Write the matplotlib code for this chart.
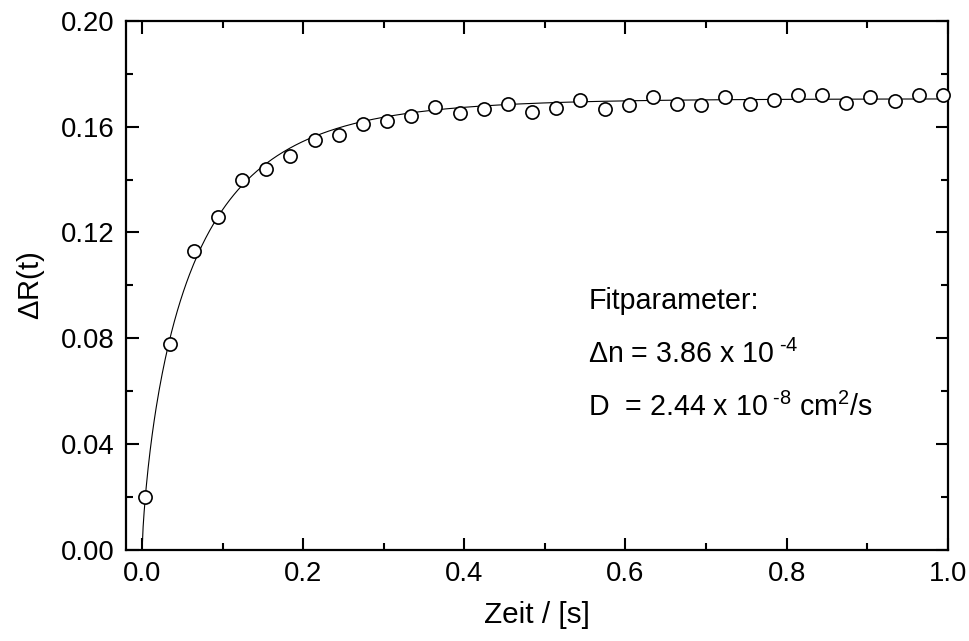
import numpy as np
import matplotlib
matplotlib.use("Agg")
import matplotlib.pyplot as plt
from matplotlib.ticker import MultipleLocator, FormatStrFormatter

plt.rcParams['font.family'] = ['Liberation Sans', 'DejaVu Sans']
plt.rcParams['mathtext.fontset'] = 'custom'
plt.rcParams['mathtext.rm'] = 'Liberation Sans'
plt.rcParams['mathtext.it'] = 'Liberation Sans'

# measured reflectivity change
zeit = [0.004, 0.034, 0.064, 0.094, 0.124, 0.154, 0.184, 0.214, 0.244, 0.274,
        0.304, 0.334, 0.364, 0.394, 0.424, 0.454, 0.484, 0.514, 0.544, 0.574,
        0.604, 0.634, 0.664, 0.694, 0.724, 0.754, 0.784, 0.814, 0.844, 0.874,
        0.904, 0.934, 0.964, 0.994]
delta_r = [0.020, 0.078, 0.113, 0.126, 0.140, 0.144, 0.149, 0.155, 0.157, 0.161,
           0.162, 0.164, 0.1675, 0.165, 0.1665, 0.1685, 0.1655, 0.167, 0.170, 0.1665,
           0.168, 0.171, 0.1685, 0.168, 0.171, 0.1685, 0.170, 0.172, 0.172, 0.169,
           0.171, 0.1695, 0.172, 0.172]

# fitted curve shape (saturation value, time constant, stretching exponent)
fit_amp = 0.1705
fit_tau = 0.0636
fit_beta = 0.75

x_ticks = [0.0, 0.2, 0.4, 0.6, 0.8, 1.0]
y_ticks = [0.00, 0.04, 0.08, 0.12, 0.16, 0.20]

fig = plt.figure(figsize=(9.70, 6.41), dpi=100)
ax = fig.add_axes([0.1299, 0.1419, 0.9770 - 0.1299, 0.9677 - 0.1419])

t_fit = np.linspace(0.0, 1.0, 800)
r_fit = fit_amp * (1.0 - np.exp(-(t_fit / fit_tau) ** fit_beta))
ax.plot(t_fit, r_fit, color='black', lw=0.8, zorder=2)
ax.plot(zeit, delta_r, linestyle='none', marker='o', markersize=9.5,
        markerfacecolor='white', markeredgecolor='black', markeredgewidth=1.2,
        zorder=3, clip_on=False)

ax.set_xlim(-0.02, 1.0)
ax.set_ylim(0.0, 0.20)
ax.set_xticks(x_ticks)
ax.set_yticks(y_ticks)
ax.xaxis.set_major_formatter(FormatStrFormatter('%.1f'))
ax.yaxis.set_major_formatter(FormatStrFormatter('%.2f'))
ax.xaxis.set_minor_locator(MultipleLocator(0.1))
ax.yaxis.set_minor_locator(MultipleLocator(0.02))
ax.tick_params(which='both', direction='in', top=True, right=True,
               width=1.5, labelsize=19.8, pad=8)
ax.tick_params(which='major', length=9)
ax.tick_params(which='minor', length=5)
for sp in ax.spines.values():
    sp.set_linewidth(1.6)

ax.set_xlabel('Zeit / [s]', fontsize=21.4, labelpad=10)
ax.set_ylabel(r'$\Delta$R(t)', fontsize=21, labelpad=10)

ax.text(0.554, 0.0909, 'Fitparameter:', fontsize=20.6, ha='left', va='baseline')
ax.text(0.554, 0.0707, r'$\Delta$n = 3.86 x 10$^{\ \text{-4}}$', fontsize=20.6,
        ha='left', va='baseline')
ax.text(0.554, 0.0507, r'D  = 2.44 x 10$^{\ \text{-8}}$ cm$^{\text{2}}$/s', fontsize=20.6,
        ha='left', va='baseline')

fig.savefig('out.png', dpi=100)
